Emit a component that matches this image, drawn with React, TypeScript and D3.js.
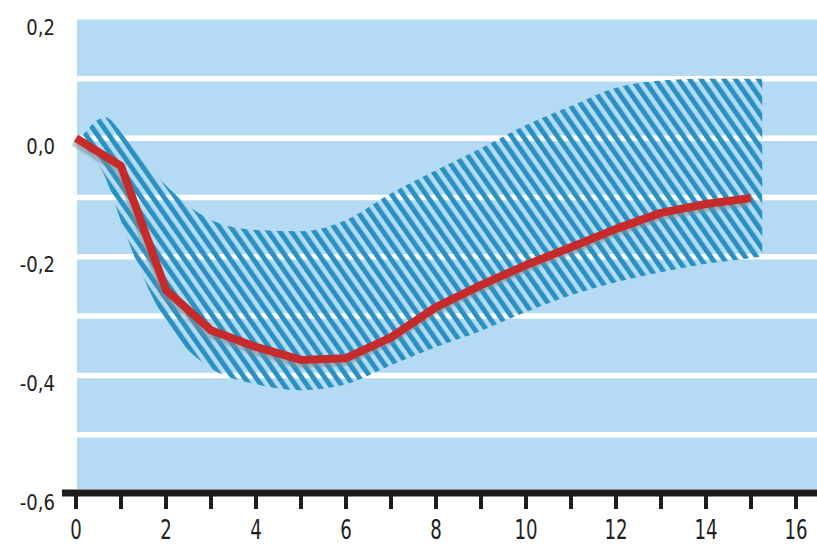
import React, { useEffect, useRef } from 'react';
import * as d3 from 'd3';

// periods on the x axis and the point estimate
const periods = [0, 1, 2, 3, 4, 5, 6, 7, 8, 9, 10, 11, 12, 13, 14, 15];
const response = [0, -0.047, -0.256, -0.324, -0.352, -0.374, -0.371, -0.336, -0.285, -0.248, -0.214, -0.184, -0.153, -0.126, -0.111, -0.101];

// confidence band (hatched)
const bandPeriods = [0.1, 0.65, 1, 1.3, 2, 3, 4, 5, 6, 7, 8, 9, 10, 11, 12, 13, 14, 15, 15.25];
const bandUpper = [0.0, 0.035, 0.01, -0.02, -0.08, -0.138, -0.155, -0.157, -0.138, -0.093, -0.054, -0.017, 0.022, 0.054, 0.085, 0.097, 0.1, 0.1, 0.1];
const bandLower = [-0.01, -0.066, -0.14, -0.2, -0.31, -0.388, -0.415, -0.425, -0.415, -0.383, -0.352, -0.325, -0.293, -0.265, -0.243, -0.226, -0.212, -0.202, -0.199];

// axes
const xTicks = [0, 1, 2, 3, 4, 5, 6, 7, 8, 9, 10, 11, 12, 13, 14, 15, 16];
const xLabels = ['0', '2', '4', '6', '8', '10', '12', '14', '16'];
const yLabelValues = [0.2, 0, -0.2, -0.4, -0.6];
const yLabels = ['0,2', '0,0', '-0,2', '-0,4', '-0,6'];
const gridValues = [0.1, 0, -0.1, -0.2, -0.3, -0.4, -0.5];

const Chart = () => {
  const ref = useRef<SVGSVGElement>(null);

  useEffect(() => {
    const width = 817;
    const svg = d3.select(ref.current);
    svg.selectAll('*').remove();

    const xScale = d3.scaleLinear().domain([0, 16]).range([76, 796]);
    const yScale = d3.scaleLinear().domain([-0.6, 0.2]).range([494, 19.5]);

    const defs = svg.append('defs');
    const pattern = defs
      .append('pattern')
      .attr('id', 'hatch')
      .attr('patternUnits', 'userSpaceOnUse')
      .attr('width', 9.4)
      .attr('height', 10)
      .attr('patternTransform', 'rotate(-35)');
    pattern.append('rect').attr('width', 5).attr('height', 10).attr('fill', '#2a92c2');

    defs
      .append('filter')
      .attr('id', 'soft')
      .append('feGaussianBlur')
      .attr('stdDeviation', 1.2);

    // plot background
    svg
      .append('rect')
      .attr('x', xScale(0) + 1)
      .attr('y', yScale(0.2))
      .attr('width', width - xScale(0) - 1)
      .attr('height', yScale(-0.6) - 5 - yScale(0.2))
      .attr('fill', '#b4dbf3');

    // white grid lines
    svg
      .append('g')
      .selectAll('line')
      .data(gridValues)
      .join('line')
      .attr('x1', xScale(0) + 1)
      .attr('x2', width)
      .attr('y1', (d) => yScale(d))
      .attr('y2', (d) => yScale(d))
      .attr('stroke', '#ffffff')
      .attr('stroke-width', 5.5);

    // hatched band
    const band = d3
      .area<number>()
      .curve(d3.curveMonotoneX)
      .x((d, i) => xScale(bandPeriods[i]))
      .y0((d, i) => yScale(bandLower[i]))
      .y1((d, i) => yScale(bandUpper[i]));

    svg.append('path').datum(bandPeriods).attr('d', band).attr('fill', 'url(#hatch)');

    const valueline = d3
      .line<number>()
      .x((d, i) => xScale(periods[i]))
      .y((d) => yScale(d));

    // shadow under the line
    svg
      .append('path')
      .datum(response)
      .attr('d', valueline)
      .attr('transform', 'translate(-2,4)')
      .attr('fill', 'none')
      .attr('stroke', '#7d8890')
      .attr('stroke-opacity', 0.55)
      .attr('stroke-width', 8)
      .attr('filter', 'url(#soft)');

    svg
      .append('path')
      .datum(response)
      .attr('d', valueline)
      .attr('fill', 'none')
      .attr('stroke', '#c62a2a')
      .attr('stroke-width', 8)
      .attr('stroke-linejoin', 'round');

    // x axis
    svg
      .append('line')
      .attr('x1', 62)
      .attr('x2', width)
      .attr('y1', yScale(-0.6) - 1)
      .attr('y2', yScale(-0.6) - 1)
      .attr('stroke', '#1c1c1c')
      .attr('stroke-width', 7);

    svg
      .append('g')
      .selectAll('line')
      .data(xTicks)
      .join('line')
      .attr('x1', (d) => xScale(d))
      .attr('x2', (d) => xScale(d))
      .attr('y1', yScale(-0.6))
      .attr('y2', 509)
      .attr('stroke', '#1c1c1c')
      .attr('stroke-width', 4);

    // condensed look: DejaVu Sans squeezed horizontally
    const font = "'DejaVu Sans', sans-serif";

    svg
      .append('g')
      .selectAll('text')
      .data(xLabels)
      .join('text')
      .attr('transform', (d) => 'translate(' + xScale(+d) + ',539) scale(0.7,1)')
      .attr('text-anchor', 'middle')
      .attr('font-family', font)
      .attr('font-size', 26)
      .attr('fill', '#1e1e1e')
      .text((d) => d);

    svg
      .append('g')
      .selectAll('text')
      .data(yLabels)
      .join('text')
      .attr('transform', (d, i) => 'translate(55,' + (yScale(yLabelValues[i]) + 8) + ') scale(0.82,1)')
      .attr('dominant-baseline', 'central')
      .attr('text-anchor', 'end')
      .attr('font-family', font)
      .attr('font-size', 22)
      .attr('fill', '#1e1e1e')
      .text((d) => d);
  }, []);

  return (
    <svg
      ref={ref}
      width={817}
      height={544}
      style={{ position: 'absolute', left: 0, top: 0, background: '#ffffff' }}
    ></svg>
  );
};

export default function App() {
  return <Chart />;
}
